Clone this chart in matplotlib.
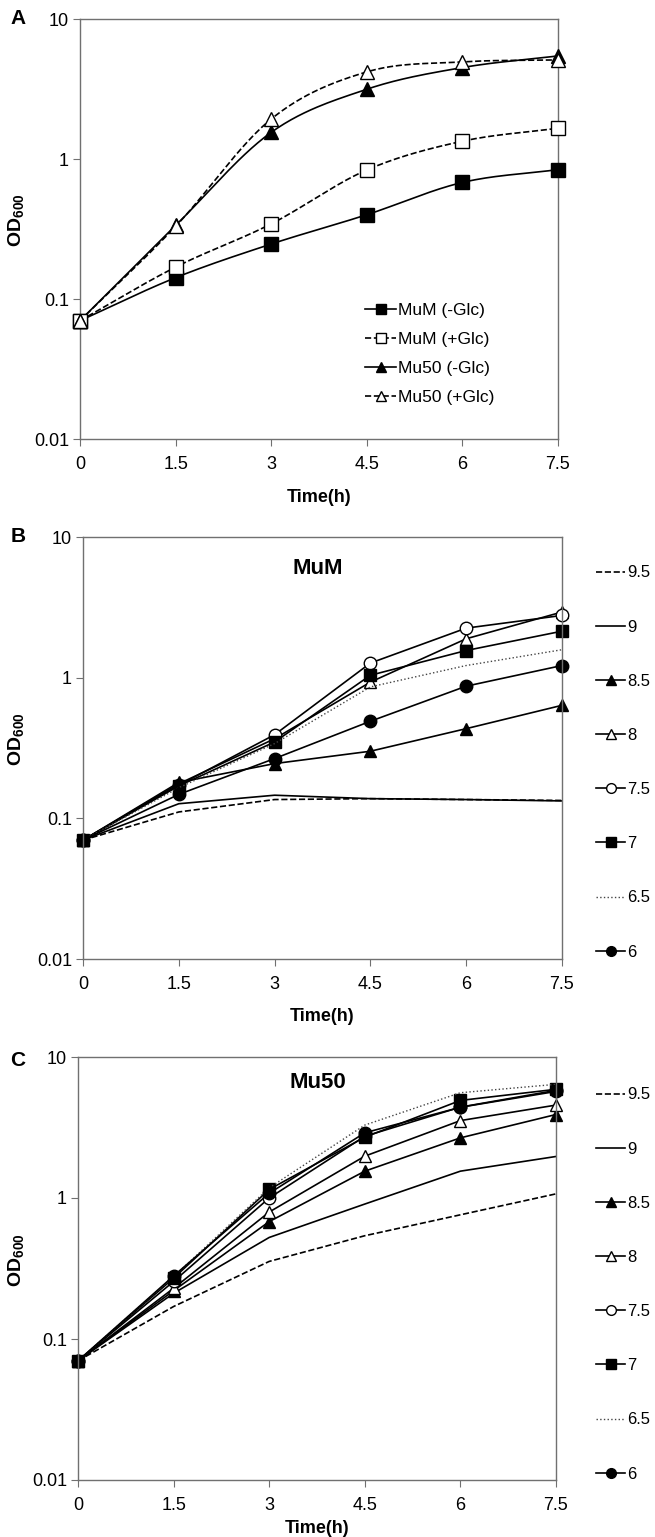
import numpy as np
import matplotlib.pyplot as plt
from matplotlib.lines import Line2D

plt.rcParams['font.family'] = ['Liberation Sans', 'DejaVu Sans']
plt.rcParams['mathtext.fontset'] = 'custom'
plt.rcParams['mathtext.rm'] = 'Liberation Sans'
plt.rcParams['mathtext.bf'] = 'Liberation Sans:bold'

time = [0, 1.5, 3, 4.5, 6, 7.5]
time_labels = ['0', '1.5', '3', '4.5', '6', '7.5']
od_ticks = [0.01, 0.1, 1, 10]
od_labels = ['0.01', '0.1', '1', '10']

# panel A: glucose
mum_noglc = [0.07, 0.142, 0.247, 0.40, 0.68, 0.84]
mum_glc = [0.07, 0.169, 0.344, 0.835, 1.34, 1.66]
mu50_noglc = [0.07, 0.335, 1.55, 3.15, 4.5, 5.45]
mu50_glc = [0.07, 0.33, 1.93, 4.19, 4.94, 5.1]
glc_labels = ['MuM (-Glc)', 'MuM (+Glc)', 'Mu50 (-Glc)', 'Mu50 (+Glc)']

# panel B/C: pH
ph_labels = ['9.5', '9', '8.5', '8', '7.5', '7', '6.5', '6']
mum_95 = [0.07, 0.111, 0.136, 0.138, 0.136, 0.134]
mum_9 = [0.07, 0.127, 0.146, 0.138, 0.136, 0.133]
mum_85 = [0.07, 0.18, 0.245, 0.30, 0.434, 0.636]
mum_8 = [0.07, 0.176, 0.368, 0.93, 1.89, 2.93]
mum_75 = [0.07, 0.172, 0.393, 1.27, 2.25, 2.77]
mum_7 = [0.07, 0.17, 0.349, 1.04, 1.56, 2.14]
mum_65 = [0.07, 0.165, 0.34, 0.86, 1.22, 1.58]
mum_6 = [0.07, 0.148, 0.266, 0.49, 0.87, 1.22]

mu50_95 = [0.07, 0.17, 0.355, 0.54, 0.76, 1.07]
mu50_9 = [0.07, 0.211, 0.525, 0.906, 1.55, 1.97]
mu50_85 = [0.07, 0.22, 0.68, 1.55, 2.67, 3.91]
mu50_8 = [0.07, 0.229, 0.795, 1.98, 3.54, 4.56]
mu50_75 = [0.07, 0.256, 1.0, 2.74, 4.41, 5.8]
mu50_7 = [0.07, 0.27, 1.15, 2.7, 4.92, 5.9]
mu50_65 = [0.07, 0.277, 1.18, 3.29, 5.58, 6.4]
mu50_6 = [0.07, 0.28, 1.08, 2.9, 4.4, 5.7]

spine_col = '#707070'


def smooth(x, y, n=30):
    # catmull-rom through the points, in log space (like excel smoothed lines)
    x = np.asarray(x, float)
    ly = np.log10(y)
    px = np.concatenate([[2*x[0]-x[1]], x, [2*x[-1]-x[-2]]])
    py = np.concatenate([[2*ly[0]-ly[1]], ly, [2*ly[-1]-ly[-2]]])
    t = np.linspace(0, 1, n)
    xs, ys = [], []
    for i in range(1, len(px)-2):
        for p, out in ((px, xs), (py, ys)):
            p0, p1, p2, p3 = p[i-1], p[i], p[i+1], p[i+2]
            out.extend(0.5*(2*p1 + (-p0+p2)*t + (2*p0-5*p1+4*p2-p3)*t**2
                            + (-p0+3*p1-3*p2+p3)*t**3))
    return np.array(xs), 10**np.array(ys)


def style_axes(ax, lab_x, xlab_y=-0.12):
    ax.set_yscale('log')
    ax.set_xlim(0, 7.5)
    ax.set_ylim(0.01, 10)
    ax.set_yticks(od_ticks)
    ax.set_yticklabels(od_labels)
    ax.yaxis.set_minor_locator(plt.NullLocator())
    ax.set_xticks(time)
    ax.set_xticklabels(time_labels)
    for s in ax.spines.values():
        s.set_color(spine_col)
        s.set_linewidth(1.0)
    ax.tick_params(direction='out', length=5, color=spine_col, labelsize=13, pad=3)
    ax.tick_params(axis='x', pad=7)
    ax.set_ylabel(r'$\mathbf{OD}_{\mathbf{600}}$', fontsize=14)
    ax.yaxis.set_label_coords(lab_x, 0.52)
    ax.set_xlabel('Time(h)', fontsize=13, fontweight='bold')
    ax.xaxis.set_label_coords(0.5, xlab_y)


fig = plt.figure(figsize=(6.55, 15.37), dpi=100)
H = 1537.0
W = 655.0

# ---------- A ----------
axA = fig.add_axes([80/W, 1-439/H, 478/W, 420/H])
a_series = [mum_noglc, mum_glc, mu50_noglc, mu50_glc]
a_ls = ['-', '--', '-', '--']
a_mk = ['s', 's', '^', '^']
a_fc = ['black', 'white', 'black', 'white']
handles = []
for vals, ls, mk, fc, lab in zip(a_series, a_ls, a_mk, a_fc, glc_labels):
    sx, sy = smooth(time, vals)
    axA.plot(sx, sy, ls=ls, color='black', lw=1.2, zorder=2)
    axA.plot(time, vals, ls='none', marker=mk, ms=10, mfc=fc, mec='black',
             mew=1.0, zorder=3, clip_on=False)
    handles.append(Line2D([], [], ls=ls, color='black', lw=1.2, marker=mk,
                          ms=7, mfc=fc, mec='black', label=lab))
style_axes(axA, -0.111)
fig.legend(handles=handles, loc='center left', bbox_to_anchor=(365/W, 1-354/H),
           frameon=False, fontsize=12.5, handlelength=1.8, handletextpad=0.1,
           labelspacing=0.8, borderpad=0, borderaxespad=0)

# ---------- B and C ----------
ph_ls = ['--', '-', '-', '-', '-', '-', ':', '-']
ph_mk = [None, None, '^', '^', 'o', 's', None, 'o']
ph_fc = [None, None, 'black', 'white', 'white', 'black', None, 'black']
ph_col = ['black', 'black', 'black', 'black', 'black', 'black', '#444444', 'black']
ph_lw = [1.2, 1.2, 1.2, 1.2, 1.2, 1.2, 1.0, 1.2]


def ph_panel(rect, series, title, title_y, leg_y, lab_x, xlab_y):
    ax = fig.add_axes(rect)
    hs = []
    for vals, ls, mk, fc, col, lw, lab in zip(series, ph_ls, ph_mk, ph_fc, ph_col, ph_lw, ph_labels):
        ax.plot(time, vals, ls=ls, color=col, lw=lw, marker=mk, ms=9, mfc=fc,
                mec='black', mew=1.0, clip_on=False)
        hs.append(Line2D([], [], ls=ls, color=col, lw=lw, marker=mk, ms=7,
                         mfc=fc, mec='black', label=lab))
    style_axes(ax, lab_x, xlab_y)
    fig.text(318/W, 1-title_y/H, title, fontsize=16, fontweight='bold',
             ha='center', va='center')
    fig.legend(handles=hs, loc='center left', bbox_to_anchor=(596/W, 1-leg_y/H),
               frameon=False, fontsize=12, handlelength=1.75, handletextpad=0.1,
               labelspacing=2.35, borderpad=0, borderaxespad=0)
    return ax


ph_panel([83/W, 1-959/H, 479/W, 422/H],
         [mum_95, mum_9, mum_85, mum_8, mum_75, mum_7, mum_65, mum_6],
         'MuM', 568, 762.5, -0.117, -0.115)
ph_panel([78/W, 1-1480/H, 478/W, 423/H],
         [mu50_95, mu50_9, mu50_85, mu50_8, mu50_75, mu50_7, mu50_65, mu50_6],
         'Mu50', 1082, 1284.5, -0.107, -0.095)

for lab, y in (('A', 19), ('B', 537), ('C', 1060)):
    fig.text(18/W, 1-y/H, lab, fontsize=15, fontweight='bold', ha='center', va='center')

fig.savefig('out.png', dpi=100)
